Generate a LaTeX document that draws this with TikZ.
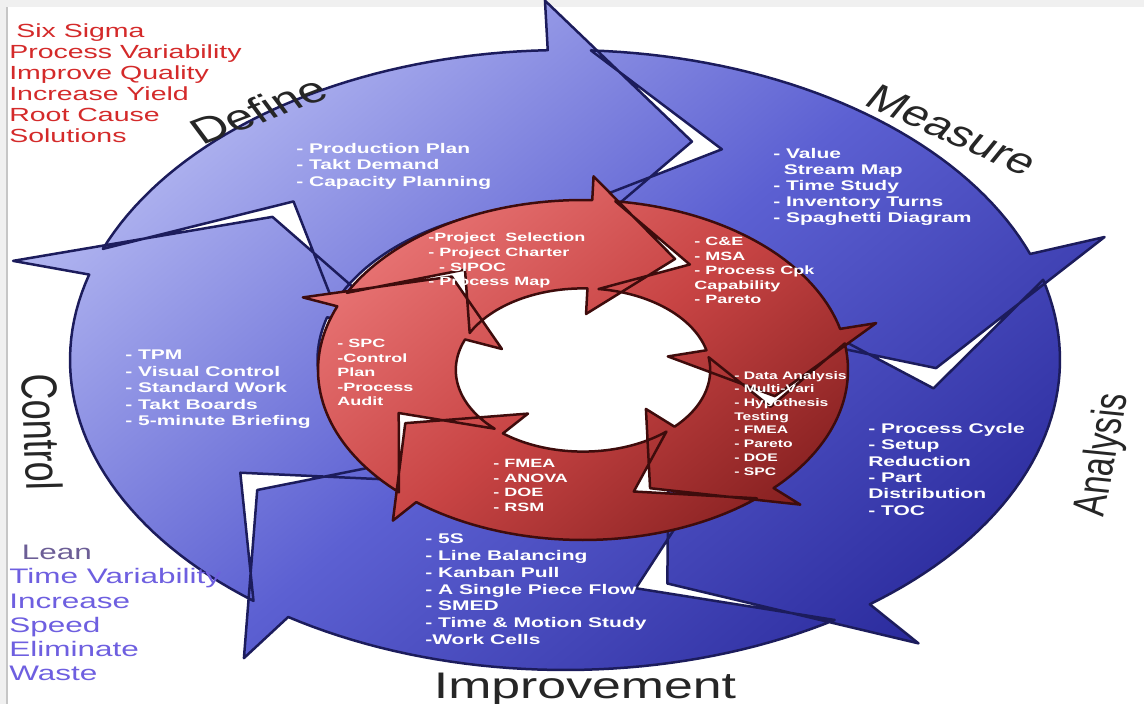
\documentclass[tikz,border=0pt]{standalone}
\usepackage{fontspec}
\setmainfont{Liberation Sans}
\definecolor{lightb}{HTML}{B6BAF2}
\definecolor{midb}{HTML}{5C60D2}
\definecolor{darkb}{HTML}{2A2A9C}
\definecolor{navy}{HTML}{1C1C5C}
\definecolor{lightr}{HTML}{E87474}
\definecolor{midr}{HTML}{C84444}
\definecolor{darkr}{HTML}{862020}
\definecolor{maroonc}{HTML}{3E0C0C}
\definecolor{titlered}{HTML}{D42A2A}
\definecolor{leanblue}{HTML}{6E5FE0}
\definecolor{leangray}{HTML}{6C5E96}
\newcommand{\ringseg}[4]{plot[domain=#1:#3,samples=40] (\x:\rOut) -- (#3:\hOut) -- (#4:\rMid) -- (#3:\hIn) -- plot[domain=#3:#1,samples=40] (\x:\rIn) -- (#2:\rMid) -- cycle}
\newcommand{\tnode}[4]{\begin{scope}[shift={#1}]\node[#2] (#3) at (0,0) {#4};\end{scope}}
\begin{document}
\begin{tikzpicture}[x=1pt,y=-1pt,
  lst/.style={text=white, font=\fontsize{14}{16.5}\selectfont\bfseries, align=left, inner sep=0pt, anchor=north west, transform shape, xscale=1.5},
  lstr/.style={text=white, font=\fontsize{12}{14.6}\selectfont\bfseries, align=left, inner sep=0pt, anchor=north west, transform shape, xscale=1.5},
  big/.style={font=\fontsize{36}{38}\selectfont, text=black!85, inner sep=0pt, transform shape},
  side/.style={align=left, inner sep=0pt, anchor=north west, transform shape, xscale=1.5},
  redside/.style={inner sep=0pt, anchor=base west, transform shape, xscale=1.5, text=titlered, font=\fontsize{19}{21}\selectfont},
  blueline/.style={draw=navy, line width=2.5pt, line join=round},
  redline/.style={draw=maroonc, line width=2.5pt, line join=round}]
\useasboundingbox (0,0) rectangle (1144,704);
\fill[white] (0,0) rectangle (1144,704);
\fill[gray!12] (0,0) rectangle (1144,7);
\fill[gray!12] (0,0) rectangle (7,704);
\draw[gray!45, line width=1.5pt] (7,7) -- (7,704);

% ---------- outer blue ring ----------
\def\rOut{1}\def\rIn{0.5}\def\hOut{1.16}\def\hIn{0.34}\def\rMid{0.75}
\begin{scope}
  \clip[shift={(565,360)}, x=495pt, y=-310pt]
    \ringseg{201}{223}{268}{290}
    \ringseg{273}{295}{340}{362}
    \ringseg{345}{367}{412}{434}
    \ringseg{57}{79}{124}{146}
    \ringseg{129}{151}{196}{218};
  \shade[top color=lightb, bottom color=darkb, middle color=midb, shading angle=40] (0,0) rectangle (1144,704);
\end{scope}
\path[blueline, shift={(565,360)}, x=495pt, y=-310pt]
    \ringseg{201}{223}{268}{290}
    \ringseg{273}{295}{340}{362}
    \ringseg{345}{367}{412}{434}
    \ringseg{57}{79}{124}{146}
    \ringseg{129}{151}{196}{218};

% ---------- inner red ring ----------
\def\rOut{1}\def\rIn{0.48}\def\hOut{1.14}\def\hIn{0.33}\def\rMid{0.74}
\begin{scope}
  \clip[shift={(583,370)}, x=265pt, y=-170pt]
    \ringseg{207}{233}{272}{298}
    \ringseg{277}{303}{346}{372}
    \ringseg{351}{377}{404}{430}
    \ringseg{49}{75}{129}{155}
    \ringseg{134}{160}{202}{228};
  \shade[top color=lightr, bottom color=darkr, middle color=midr, shading angle=40] (300,180) rectangle (880,560);
\end{scope}
\path[redline, shift={(583,370)}, x=265pt, y=-170pt]
    \ringseg{207}{233}{272}{298}
    \ringseg{277}{303}{346}{372}
    \ringseg{351}{377}{404}{430}
    \ringseg{49}{75}{129}{155}
    \ringseg{134}{160}{202}{228};

% ---------- big labels ----------
\tnode{(258,110)}{big, xscale=1.4, rotate=28}{define}{Define}
\tnode{(952,130)}{big, xscale=1.35, rotate=-31}{measure}{Measure}
\tnode{(1104,455)}{big, font=\fontsize{33}{35}\selectfont, xscale=1.4, rotate=82}{analysis}{Analysis}
\tnode{(42,432)}{big, xscale=1.4, rotate=-88}{control}{Control}
\tnode{(585,698)}{big, font=\fontsize{37}{39}\selectfont, xscale=1.4, anchor=base}{improvement}{Improvement}

% ---------- blue lists ----------
\tnode{(296,143)}{lst}{deflist}{- Production Plan\\- Takt Demand\\- Capacity Planning}
\tnode{(773,148)}{lst, font=\fontsize{14}{16}\selectfont\bfseries}{measlist}{- Value\\\hspace{0.5em}Stream Map\\- Time Study\\- Inventory Turns\\- Spaghetti Diagram}
\tnode{(125,350)}{lst}{ctrllist}{- TPM\\- Visual Control\\- Standard Work\\- Takt Boards\\- 5-minute Briefing}
\tnode{(868,423)}{lst, font=\fontsize{14}{16.4}\selectfont\bfseries}{analist}{- Process Cycle\\- Setup\\Reduction\\- Part\\Distribution\\- TOC}
\tnode{(425,534)}{lst, font=\fontsize{14}{16.7}\selectfont\bfseries}{implist}{- 5S\\- Line Balancing\\- Kanban Pull\\- A Single Piece Flow\\- SMED\\- Time \& Motion Study\\-Work Cells}

% ---------- red lists ----------
\tnode{(428,233)}{lstr}{toplist}{-Project\ \ Selection\\- Project Charter\\\hspace{0.6em}- SIPOC\\- Process Map}
\tnode{(694,237)}{lstr}{rightlist}{- C\&E\\- MSA\\- Process Cpk\\Capability\\- Pareto}
\tnode{(734,371)}{lstr, font=\fontsize{11}{13.7}\selectfont\bfseries, xscale=0.95}{brlist}{- Data Analysis\\- Multi-Vari\\- Hypothesis\\Testing\\- FMEA\\- Pareto\\- DOE\\- SPC}
\tnode{(493,459)}{lstr}{botlist}{- FMEA\\- ANOVA\\- DOE\\- RSM}
\tnode{(337,339)}{lstr}{leftlist}{- SPC\\-Control\\Plan\\-Process\\Audit}

% ---------- side texts ----------
\tnode{(16,37)}{redside}{ss1}{Six Sigma}
\tnode{(9,58)}{redside}{ss2}{Process Variability}
\tnode{(9,79)}{redside}{ss3}{Improve Quality}
\tnode{(9,100)}{redside}{ss4}{Increase Yield}
\tnode{(9,121)}{redside}{ss5}{Root Cause}
\tnode{(9,142)}{redside}{ss6}{Solutions}
\tnode{(9,545)}{side, text=leanblue, font=\fontsize{21}{24.2}\selectfont}{lean}{\hspace{0.4em}\textcolor{leangray}{Lean}\\Time Variability\\Increase\\Speed\\Eliminate\\Waste}
\end{tikzpicture}
\end{document}
